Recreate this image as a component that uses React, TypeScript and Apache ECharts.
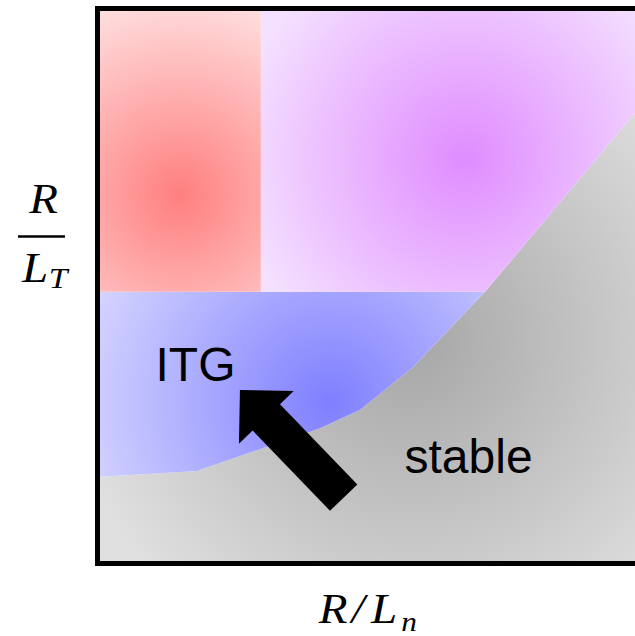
import React, { useEffect, useRef } from "react";
import * as echarts from "echarts";

// Normalised axes: R/Ln horizontally, R/LT vertically
const xRange = [0, 10];
const yRange = [0, 10];

// Marginal-stability curve: critical R/LT as a function of R/Ln
const boundaryLn = [0, 1.85, 4.14, 4.88, 5.87, 7.21, 10];
const boundaryLt = [1.55, 1.66, 2.43, 2.76, 3.53, 4.89, 8.12];

// R/LT level closing the ITG band, and R/Ln splitting the two upper regimes
const upperLt = 4.89;
const splitLn = 3.04;

// Arrow pointing from the stable side into the ITG region
const arrowTail = [4.58, 1.18];
const arrowHead = [2.65, 3.12];

const regionLabels = ["ITG", "stable"];

type Pt = number[];

const boundary: Pt[] = boundaryLn.map((x, i) => [x, boundaryLt[i]]);

// Region outlines built from the curve and the two limits
const stablePoly: Pt[] = [...boundary, [xRange[1], yRange[0]], [xRange[0], yRange[0]]];
const itgPoly: Pt[] = [
  [xRange[0], upperLt],
  ...boundary.filter((p) => p[1] <= upperLt).reverse(),
];
const upperRightPoly: Pt[] = [
  [splitLn, upperLt],
  ...boundary.filter((p) => p[1] >= upperLt),
  [xRange[1], yRange[1]],
  [splitLn, yRange[1]],
];
const upperLeftPoly: Pt[] = [
  [xRange[0], upperLt],
  [splitLn, upperLt],
  [splitLn, yRange[1]],
  [xRange[0], yRange[1]],
];

interface Shade {
  center: Pt;
  radius: number;
  inner: string;
  outer: string;
}

function regionSeries(name: string, pts: Pt[], shade: Shade) {
  return {
    type: "custom",
    name,
    coordinateSystem: "cartesian2d",
    xAxisIndex: 0,
    yAxisIndex: 0,
    silent: true,
    data: pts,
    encode: { x: 0, y: 1 },
    renderItem: (params: any, api: any) => {
      if (params.dataIndex !== 0) return { type: "group", children: [] };
      const points = pts.map((p) => api.coord(p));
      const c = api.coord(shade.center);
      return {
        type: "polygon",
        shape: { points },
        style: {
          fill: new echarts.graphic.RadialGradient(
            c[0],
            c[1],
            shade.radius,
            [
              { offset: 0, color: shade.inner },
              { offset: 1, color: shade.outer },
            ],
            true
          ),
        },
      };
    },
  };
}

const arrowSeries = {
  type: "custom",
  name: "arrow",
  coordinateSystem: "cartesian2d",
  xAxisIndex: 0,
  yAxisIndex: 0,
  silent: true,
  data: [[arrowTail[0], arrowTail[1], arrowHead[0], arrowHead[1]]],
  encode: { x: [0, 2], y: [1, 3] },
  renderItem: (_params: any, api: any) => {
    const t = api.coord([api.value(0), api.value(1)]);
    const h = api.coord([api.value(2), api.value(3)]);
    const dx = h[0] - t[0];
    const dy = h[1] - t[1];
    const len = Math.hypot(dx, dy);
    const ux = dx / len;
    const uy = dy / len;
    const nx = -uy;
    const ny = ux;
    const shaft = 19;
    const wing = 38;
    const headLen = 38;
    const bx = h[0] - ux * headLen;
    const by = h[1] - uy * headLen;
    const points = [
      [t[0] + nx * shaft, t[1] + ny * shaft],
      [bx + nx * shaft, by + ny * shaft],
      [bx + nx * wing, by + ny * wing],
      [h[0], h[1]],
      [bx - nx * wing, by - ny * wing],
      [bx - nx * shaft, by - ny * shaft],
      [t[0] - nx * shaft, t[1] - ny * shaft],
    ];
    return { type: "polygon", shape: { points }, style: { fill: "#000" } };
  },
};

const frameLine = {
  show: true,
  onZero: false,
  lineStyle: { color: "#000", width: 5, cap: "square" },
};

function hiddenAxis(position: string) {
  return {
    type: "value",
    position,
    min: position === "left" ? yRange[0] : xRange[0],
    max: position === "left" ? yRange[1] : xRange[1],
    axisLine: frameLine,
    axisTick: { show: false },
    axisLabel: { show: false },
    splitLine: { show: false },
    z: 10,
  };
}

const serif = '"Liberation Serif", "Times New Roman", serif';
const sans = '"Liberation Sans", Arial, sans-serif';

// Single italic math glyph, slightly widened
function glyph(text: string, x: number, y: number, size: number) {
  return {
    type: "text",
    x,
    y,
    scaleX: 1.12,
    z: 20,
    silent: true,
    style: {
      text,
      fontSize: size,
      fontStyle: "italic",
      fontFamily: serif,
      fill: "#000",
      align: "center",
      verticalAlign: "middle",
    },
  };
}

function label(text: string, x: number, y: number) {
  return {
    type: "text",
    x,
    y,
    z: 20,
    silent: true,
    style: {
      text,
      fontSize: 48,
      fontFamily: sans,
      fill: "#000",
      align: "left",
      verticalAlign: "middle",
    },
  };
}

export default function App() {
  const ref = useRef<HTMLDivElement>(null);

  useEffect(() => {
    if (!ref.current) return;
    const chart = echarts.init(ref.current, null, { renderer: "svg" });
    chart.setOption({
      animation: false,
      backgroundColor: "#fff",
      grid: { left: 97.5, top: 8.5, right: 0, bottom: 73 },
      xAxis: [hiddenAxis("bottom"), hiddenAxis("top")],
      yAxis: [hiddenAxis("left")],
      series: [
        regionSeries("stable", stablePoly, {
          center: [5.81, 4.02],
          radius: 350,
          inner: "#a6a6a6",
          outer: "#e0e0e0",
        }),
        regionSeries("ITG", itgPoly, {
          center: [4.33, 2.9],
          radius: 280,
          inner: "#7f7fff",
          outer: "#dcdcff",
        }),
        regionSeries("upper-left", upperLeftPoly, {
          center: [1.53, 6.64],
          radius: 200,
          inner: "#ff7f7f",
          outer: "#ffdede",
        }),
        regionSeries("upper-right", upperRightPoly, {
          center: [6.84, 7.3],
          radius: 230,
          inner: "#e08cff",
          outer: "#f4e0ff",
        }),
        arrowSeries,
      ],
      graphic: [
        label(regionLabels[0], 155.5, 364),
        label(regionLabels[1], 404.5, 456),
        // vertical axis title: R over L_T
        glyph("R", 43.5, 199, 42),
        {
          type: "line",
          z: 20,
          silent: true,
          shape: { x1: 18, y1: 236.5, x2: 65, y2: 236.5 },
          style: { stroke: "#000", lineWidth: 2.7 },
        },
        glyph("L", 35, 267.5, 42),
        glyph("T", 58, 278, 30),
        // horizontal axis title: R/L_n
        glyph("R", 333, 608.5, 42),
        glyph("/", 358, 608.5, 42),
        glyph("L", 384, 608.5, 42),
        glyph("n", 409, 621.5, 28),
      ],
    });
    return () => chart.dispose();
  }, []);

  return (
    <div
      ref={ref}
      style={{ position: "absolute", left: 0, top: 0, width: 635, height: 636 }}
    />
  );
}
